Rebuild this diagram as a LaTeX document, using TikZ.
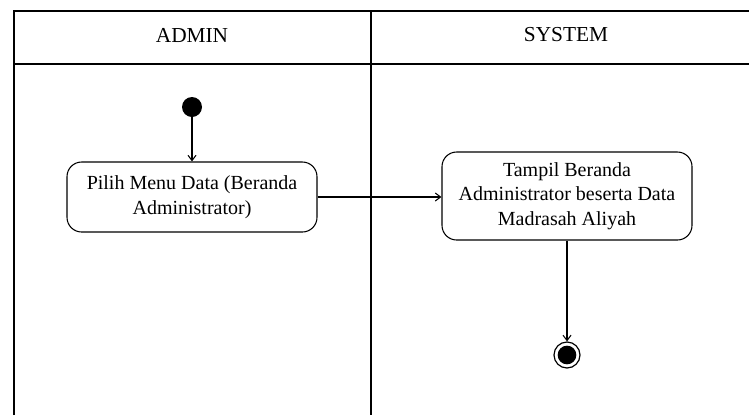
\documentclass[tikz,border=0pt]{standalone}
\usepackage{fontspec}
\setmainfont{Liberation Serif}
\usepackage{tikz}
\usetikzlibrary{arrows.meta}
\tikzset{
  lane/.style={line width=1pt},
  lanetitle/.style={inner sep=0.75pt, font=\fontsize{16}{19}\selectfont},
  activity/.style={draw, line width=0.8pt, rounded corners=11pt, align=center,
    minimum width=187.5pt, inner sep=2pt, font=\fontsize{15}{18.4}\selectfont},
  startnode/.style={circle, fill=black, minimum size=15pt, inner sep=0pt},
  endnode/.style={circle, draw, line width=0.9pt, minimum size=19.5pt, inner sep=0pt,
    path picture={\fill (path picture bounding box.center) circle (7pt);}},
  flow/.style={line width=0.8pt, -{Straight Barb[length=4pt,width=6pt]}}
}
\begin{document}
\begin{tikzpicture}[x=0.75pt,y=0.75pt,yscale=-1,xscale=1]
\useasboundingbox (0,0) rectangle (749,415);

%Swimlanes
\draw [lane] (14,415) -- (14,11) -- (749,11) ;
\draw [lane] (14,64) -- (749,64) ;
\draw [lane] (371,11) -- (371,415) ;

% Text Node
\node [lanetitle] (admin) at (192,35) {ADMIN};
% Text Node
\node [lanetitle] (system) at (566,35) {SYSTEM};

%Start
\node [startnode] (start) at (192,107) {};
%Activity
\node [activity, minimum height=52.5pt] (pilih) at (192,197) {Pilih Menu Data (Beranda\\Administrator)};
%Activity
\node [activity, minimum height=66pt] (tampil) at (567,196) {Tampil Beranda\\Administrator beserta Data\\Madrasah Aliyah};
%End
\node [endnode] (end) at (567,355) {};

%Flows
\draw [flow] (start) -- (pilih) ;
\draw [flow] (pilih) -- (pilih -| tampil.west) ;
\draw [flow] (tampil) -- (end) ;

\end{tikzpicture}
\end{document}
